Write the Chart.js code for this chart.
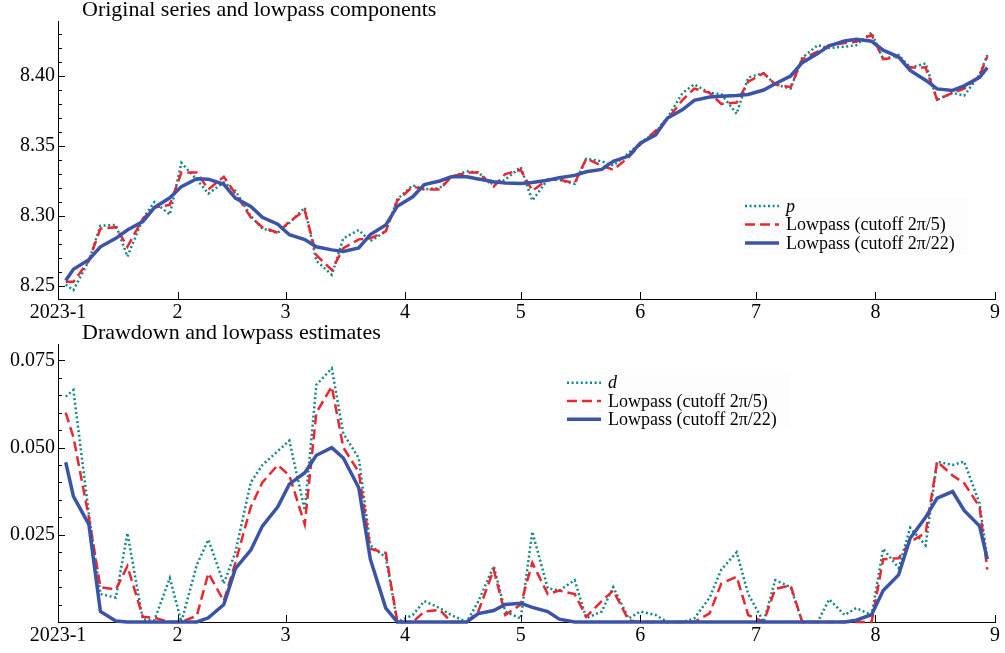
<!DOCTYPE html>
<html>
<head>
<meta charset="utf-8">
<script src="https://cdn.jsdelivr.net/npm/chart.js@4.4.0/dist/chart.umd.min.js"></script>
<style>
  html, body { margin: 0; padding: 0; background: #fff; }
  canvas { position: absolute; left: 0; }
</style>
</head>
<body>
<canvas id="pricePanel" width="1005" height="330" style="top:0"></canvas>
<canvas id="drawdownPanel" width="1005" height="331" style="top:322px"></canvas>
<script>
// sample days (days after 1 Jan 2023), two observations a week
const days = [2,4,8,11,15,18,22,25,29,32,36,39,43,46,50,53,57,60,64,67,71,74,78,81,85,88,92,95,99,102,106,109,113,116,120,123,127,130,134,137,141,144,148,151,155,158,162,165,169,172,176,179,183,186,190,193,197,200,204,207,211,214,218,221,225,228,232,235,239,241];

// month boundaries on the x axis
const monthStarts = [0, 31, 59, 90, 120, 151, 181, 212, 243];
const monthLabels = ['2023-1', '2', '3', '4', '5', '6', '7', '8', '9'];

// log price and its lowpass components
const p = [8.251, 8.247, 8.268, 8.293, 8.2936, 8.271, 8.298, 8.310, 8.301, 8.338,
  8.326, 8.316, 8.324, 8.318, 8.300, 8.291, 8.288, 8.295, 8.306, 8.268,
  8.258, 8.284, 8.290, 8.282, 8.289, 8.312, 8.322, 8.319, 8.320, 8.328,
  8.332, 8.331, 8.322, 8.326, 8.335, 8.311, 8.326, 8.3257, 8.323, 8.341,
  8.339, 8.336, 8.345, 8.352, 8.360, 8.370, 8.388, 8.394, 8.388, 8.387,
  8.373, 8.399, 8.402, 8.394, 8.391, 8.413, 8.422, 8.420, 8.421, 8.422,
  8.431, 8.412, 8.415, 8.406, 8.409, 8.383, 8.388, 8.386, 8.401, 8.415];
const pLow5 = [8.253, 8.253, 8.268, 8.291, 8.292, 8.278, 8.298, 8.306, 8.308, 8.331,
  8.331, 8.319, 8.328, 8.316, 8.299, 8.292, 8.288, 8.296, 8.304, 8.272,
  8.2614, 8.277, 8.2833, 8.284, 8.289, 8.311, 8.321, 8.319, 8.319, 8.328,
  8.331, 8.331, 8.321, 8.330, 8.333, 8.318, 8.326, 8.326, 8.3235, 8.341,
  8.336, 8.333, 8.342, 8.351, 8.361, 8.369, 8.383, 8.391, 8.388, 8.380,
  8.381, 8.396, 8.402, 8.394, 8.392, 8.412, 8.4175, 8.422, 8.4235, 8.4245,
  8.4293, 8.412, 8.4135, 8.406, 8.406, 8.383, 8.388, 8.391, 8.400, 8.414];
const pLow22 = [8.254, 8.262, 8.2688, 8.278, 8.284, 8.290, 8.296, 8.306, 8.313, 8.321,
  8.3266, 8.3263, 8.3226, 8.3128, 8.3068, 8.299, 8.2941, 8.2866, 8.2832, 8.278,
  8.2758, 8.2747, 8.2772, 8.2867, 8.2935, 8.307, 8.3137, 8.3224, 8.325, 8.328,
  8.328, 8.3264, 8.3245, 8.3236, 8.3233, 8.3239, 8.3256, 8.3273, 8.329, 8.3316,
  8.3333, 8.339, 8.3428, 8.352, 8.358, 8.3698, 8.376, 8.3826, 8.385, 8.3855,
  8.3861, 8.3868, 8.390, 8.3945, 8.400, 8.4095, 8.416, 8.4215, 8.425, 8.4262,
  8.4248, 8.4185, 8.4137, 8.404, 8.397, 8.3908, 8.3897, 8.393, 8.399, 8.406];

// drawdown and its lowpass estimates
const d = [0.0646, 0.0665, 0.031, 0.008, 0.007, 0.0255, 0.0007, 0.0005, 0.0126, 0,
  0.0164, 0.0236, 0.011, 0.020, 0.040, 0.045, 0.049, 0.052, 0.032, 0.068,
  0.0727, 0.054, 0.047, 0.022, 0.0185, 0, 0.002, 0.006, 0.004, 0.002,
  0, 0.0059, 0.016, 0.003, 0.001, 0.0259, 0.0097, 0.009, 0.012, 0.0011,
  0.003, 0.010, 0.001, 0.003, 0.002, 0, 0, 0.001, 0.007, 0.015,
  0.020, 0.008, 0, 0.012, 0.010, 0, 0, 0.0065, 0.002, 0.004,
  0.002, 0.021, 0.0155, 0.027, 0.022, 0.046, 0.045, 0.046, 0.034, 0.018];
const dLow5 = [0.060, 0.053, 0.030, 0.010, 0.0093, 0.016, 0.0015, 0.0012, 0, 0,
  0.0018, 0.014, 0.006, 0.017, 0.033, 0.040, 0.045, 0.042, 0.028, 0.060,
  0.0675, 0.050, 0.043, 0.021, 0.0198, 0, 0, 0.003, 0.0035, 0,
  0, 0.003, 0.015, 0.002, 0.005, 0.017, 0.008, 0.009, 0.008, 0.0015,
  0.006, 0.009, 0.0005, 0, 0, 0, 0, 0, 0.0025, 0.011,
  0.013, 0.002, 0, 0.0095, 0.0105, 0, 0, 0, 0, 0,
  0, 0.018, 0.0183, 0.023, 0.0255, 0.046, 0.042, 0.0398, 0.033, 0.015];
const dLow22 = [0.0458, 0.036, 0.028, 0.003, 0.0003, 0, 0, 0, 0, 0,
  0, 0.0012, 0.005, 0.0153, 0.0206, 0.0275, 0.033, 0.0395, 0.0428, 0.0478,
  0.050, 0.047, 0.0385, 0.018, 0.004, 0, 0, 0, 0, 0,
  0, 0.0024, 0.0033, 0.005, 0.0054, 0.0042, 0.003, 0.0008, 0, 0,
  0, 0, 0, 0, 0, 0, 0, 0, 0, 0,
  0, 0, 0, 0, 0, 0, 0, 0, 0, 0.0005,
  0.0021, 0.009, 0.0135, 0.024, 0.030, 0.0355, 0.0374, 0.032, 0.0275, 0.018];

const priceTicks = [8.25, 8.30, 8.35, 8.40];
const drawdownTicks = [0.025, 0.050, 0.075];

const SERIF = '"Liberation Serif", "Times New Roman", serif';
const TEAL = '#118787';
const RED = '#ea2630';
const BLUE = '#3b54a8';

// title, inward tick marks and the legend box, drawn on top of the chart
const panelDecor = {
  id: 'panelDecor',
  afterDraw(chart, args, opts) {
    const ctx = chart.ctx;
    const { x, y } = chart.scales;
    ctx.save();

    ctx.fillStyle = '#000';
    ctx.font = `22px ${SERIF}`;
    ctx.textBaseline = 'alphabetic';
    ctx.fillText(opts.title, opts.titleX, opts.titleY);

    ctx.strokeStyle = '#000';
    ctx.lineWidth = 1;
    ctx.beginPath();
    for (let k = 0; ; k++) {
      const v = opts.minorStart + k * opts.minorStep;
      if (v > y.max) break;
      const py = Math.round(y.getPixelForValue(v)) + 0.5;
      const major = opts.majors.some(m => Math.abs(m - v) < 1e-9);
      ctx.moveTo(x.left, py);
      ctx.lineTo(x.left + (major ? 7 : 4), py);
    }
    monthStarts.forEach(m => {
      const px = Math.round(x.getPixelForValue(m)) + 0.5;
      ctx.moveTo(px, y.bottom);
      ctx.lineTo(px, y.bottom - 7);
    });
    ctx.stroke();

    const lg = opts.legend;
    ctx.fillStyle = 'rgba(0,0,0,0.008)';
    ctx.fillRect(lg.box[0], lg.box[1], lg.box[2], lg.box[3]);
    chart.data.datasets.forEach((ds, i) => {
      const ry = lg.y + i * lg.rowH;
      ctx.beginPath();
      ctx.setLineDash(ds.borderDash || []);
      ctx.strokeStyle = ds.borderColor;
      ctx.lineWidth = ds.borderWidth;
      ctx.moveTo(lg.x, ry);
      ctx.lineTo(lg.x + 34, ry);
      ctx.stroke();
      ctx.setLineDash([]);
      ctx.fillStyle = '#000';
      ctx.font = `${ds.italicLabel ? 'italic ' : ''}18px ${SERIF}`;
      ctx.textBaseline = 'middle';
      ctx.fillText(ds.label, lg.x + 41, ry + 1);
    });
    ctx.restore();
  }
};

function makePanel(id, cfg) {
  const datasets = cfg.series.map(s => ({
    label: s.label,
    data: days.map((day, i) => ({ x: day, y: s.values[i] })),
    borderColor: s.color,
    borderWidth: s.width,
    borderDash: s.dash,
    borderCapStyle: 'butt',
    order: s.order,
    italicLabel: s.italic,
    pointRadius: 0,
    tension: 0,
    fill: false,
    clip: 4
  }));

  return new Chart(document.getElementById(id), {
    type: 'line',
    data: { datasets },
    options: {
      responsive: false,
      animation: false,
      layout: { padding: { top: cfg.padTop, right: 10, bottom: 0, left: 0 } },
      plugins: {
        legend: { display: false },
        tooltip: { enabled: false },
        panelDecor: cfg.decor
      },
      scales: {
        x: {
          type: 'linear',
          min: 0,
          max: 243,
          grid: { display: false, drawTicks: false },
          border: { color: '#000', width: 1 },
          afterBuildTicks: a => { a.ticks = monthStarts.map(v => ({ value: v })); },
          afterFit: a => { a.height = cfg.xAxisHeight; },
          ticks: {
            autoSkip: false,
            maxRotation: 0,
            padding: 2,
            color: '#000',
            font: { family: SERIF, size: 20 },
            callback: (v, i) => monthLabels[i]
          }
        },
        y: {
          min: cfg.yMin,
          max: cfg.yMax,
          grid: { display: false, drawTicks: false },
          border: { color: '#000', width: 1 },
          afterBuildTicks: a => { a.ticks = cfg.yTicks.map(v => ({ value: v })); },
          afterFit: a => { a.width = 58; },
          ticks: {
            padding: 3,
            color: '#000',
            font: { family: SERIF, size: 20 },
            callback: v => v.toFixed(cfg.decimals)
          }
        }
      }
    },
    plugins: [panelDecor]
  });
}

makePanel('pricePanel', {
  padTop: 21,
  xAxisHeight: 31,
  yMin: 8.2407,
  yMax: 8.4393,
  yTicks: priceTicks,
  decimals: 2,
  series: [
    { label: 'p', values: p, color: TEAL, width: 2.5, dash: [2, 2.6], order: 3, italic: true },
    { label: 'Lowpass (cutoff 2\u03c0/5)', values: pLow5, color: RED, width: 2.5, dash: [10, 5], order: 2 },
    { label: 'Lowpass (cutoff 2\u03c0/22)', values: pLow22, color: BLUE, width: 3.5, dash: [], order: 1 }
  ],
  decor: {
    title: 'Original series and lowpass components',
    titleX: 82, titleY: 16,
    minorStart: 8.25, minorStep: 0.01, majors: priceTicks,
    legend: { x: 745, y: 206, rowH: 18.5, box: [737, 197, 231, 58] }
  }
});

makePanel('drawdownPanel', {
  padTop: 22,
  xAxisHeight: 31,
  yMin: 0,
  yMax: 0.0797,
  yTicks: drawdownTicks,
  decimals: 3,
  series: [
    { label: 'd', values: d, color: TEAL, width: 2.5, dash: [2, 2.6], order: 3, italic: true },
    { label: 'Lowpass (cutoff 2\u03c0/5)', values: dLow5, color: RED, width: 2.5, dash: [10, 5], order: 2 },
    { label: 'Lowpass (cutoff 2\u03c0/22)', values: dLow22, color: BLUE, width: 3.5, dash: [], order: 1 }
  ],
  decor: {
    title: 'Drawdown and lowpass estimates',
    titleX: 82, titleY: 17,
    minorStart: 0.005, minorStep: 0.005, majors: drawdownTicks,
    legend: { x: 567, y: 60.7, rowH: 18.3, box: [560, 48, 230, 60] }
  }
});
</script>
</body>
</html>
